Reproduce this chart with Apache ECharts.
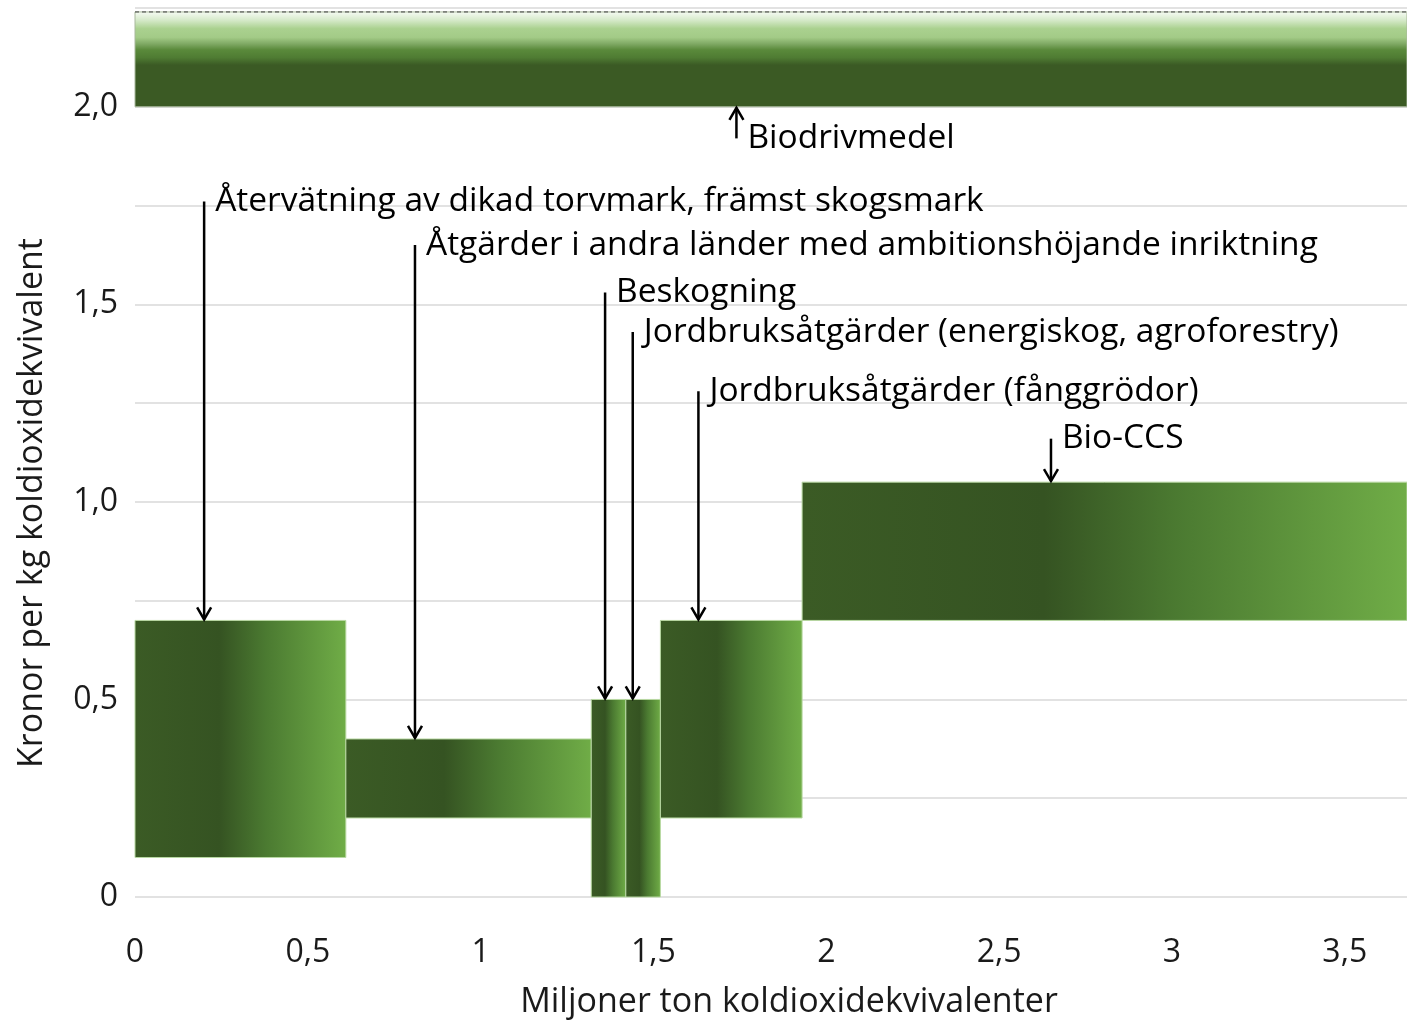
<!DOCTYPE html>
<html>
<head>
<meta charset="utf-8">
<script src="https://cdn.jsdelivr.net/npm/echarts@6/dist/echarts.min.js"></script>
<style>
html, body { margin: 0; padding: 0; background: #fff; }
#main { width: 1407px; height: 1022px; }
</style>
</head>
<body>
<div id="main"></div>
<script>
// atgarder (staplar) - bredd = potential, hojd = kostnadsintervall
var measures = ['Återvätning', 'Åtgärder i andra länder', 'Beskogning', 'Jordbruk energiskog', 'Jordbruk fånggrödor', 'Bio-CCS'];
var xStart = [0, 0.61, 1.32, 1.42, 1.52, 1.93];
var xEnd = [0.61, 1.32, 1.42, 1.52, 1.93, 3.68];
var costLow = [0.1, 0.2, 0, 0, 0.2, 0.7];
var costHigh = [0.7, 0.4, 0.5, 0.5, 0.7, 1.05];

// biodrivmedel ligger over hela bredden
var bioX = [0, 3.68];
var bioCost = [2.0, 2.24];

// pilar och texter
var noteText = [
    'Återvätning av dikad torvmark, främst skogsmark',
    'Åtgärder i andra länder med ambitionshöjande inriktning',
    'Beskogning',
    'Jordbruksåtgärder (energiskog, agroforestry)',
    'Jordbruksåtgärder (fånggrödor)',
    'Bio-CCS',
    'Biodrivmedel'
];
var noteX = [0.2, 0.81, 1.36, 1.44, 1.63, 2.65, 1.74];
var noteTail = [1.76, 1.65, 1.53, 1.43, 1.28, 1.16, 1.92];
var noteTip = [0.7, 0.4, 0.5, 0.5, 0.7, 1.05, 2.0];

var xTicks = ['0', '0,5', '1', '1,5', '2', '2,5', '3', '3,5'];

var FONT = '"Open Sans", "Noto Sans", sans-serif';
var FS = 32;

var chartDom = document.getElementById('main');
var myChart = echarts.init(chartDom);
var option;

var barData = [];
for (var i = 0; i < measures.length; i++) {
    barData.push({ name: measures[i], value: [xStart[i], xEnd[i], costLow[i], costHigh[i]] });
}
var noteData = [];
for (var j = 0; j < noteText.length; j++) {
    noteData.push({ name: noteText[j], value: [noteX[j], noteTail[j], noteTip[j]] });
}

function hGrad() {
    return new echarts.graphic.LinearGradient(0, 0, 1, 0, [
        { offset: 0, color: '#3b5b25' },
        { offset: 0.4, color: '#355322' },
        { offset: 0.62, color: '#4b7a31' },
        { offset: 1, color: '#70ad47' }
    ]);
}

function renderBar(params, api) {
    var p0 = api.coord([api.value(0), api.value(3)]);
    var p1 = api.coord([api.value(1), api.value(2)]);
    return {
        type: 'rect',
        shape: { x: p0[0], y: p0[1], width: p1[0] - p0[0], height: p1[1] - p0[1] },
        style: { fill: hGrad(), stroke: '#b9d9a3', lineWidth: 1 }
    };
}

function renderBio(params, api) {
    var p0 = api.coord([api.value(0), api.value(3)]);
    var p1 = api.coord([api.value(1), api.value(2)]);
    return {
        type: 'group',
        children: [
            {
                type: 'rect',
                shape: { x: p0[0], y: p0[1], width: p1[0] - p0[0], height: p1[1] - p0[1] },
                style: {
                    fill: new echarts.graphic.LinearGradient(0, 0, 0, 1, [
                        { offset: 0, color: '#f8fcf6' },
                        { offset: 0.09, color: '#d6eaca' },
                        { offset: 0.18, color: '#aad18f' },
                        { offset: 0.27, color: '#a3cb87' },
                        { offset: 0.34, color: '#7ea863' },
                        { offset: 0.4, color: '#5a8a3b' },
                        { offset: 0.48, color: '#4f7c33' },
                        { offset: 0.56, color: '#3b5a24' },
                        { offset: 1, color: '#3b5a24' }
                    ]),
                    stroke: '#a8b89c',
                    lineWidth: 1
                }
            },
            {
                type: 'line',
                shape: { x1: p0[0], y1: p0[1], x2: p1[0], y2: p0[1] },
                style: { stroke: '#404040', lineWidth: 1, lineDash: [4, 3] }
            }
        ]
    };
}

function renderNote(params, api) {
    var x = api.value(0);
    var tail = api.coord([x, api.value(1)]);
    var tip = api.coord([x, api.value(2)]);
    var dir = tip[1] > tail[1] ? 1 : -1;
    var hw = 7, hl = 13;
    return {
        type: 'group',
        children: [
            {
                type: 'line',
                shape: { x1: tail[0], y1: tail[1], x2: tip[0], y2: tip[1] - dir * 1 },
                style: { stroke: '#000', lineWidth: 2.5 }
            },
            {
                type: 'polyline',
                shape: { points: [[tip[0] - hw, tip[1] - dir * hl], [tip[0], tip[1] - dir * 1], [tip[0] + hw, tip[1] - dir * hl]] },
                style: { stroke: '#000', lineWidth: 2.5, fill: null }
            },
            {
                type: 'text',
                x: tail[0] + 11,
                y: tail[1],
                style: {
                    text: noteText[params.dataIndex],
                    font: '33.5px ' + FONT,
                    fill: '#000',
                    verticalAlign: 'middle',
                    align: 'left'
                }
            }
        ]
    };
}

option = {
    animation: false,
    grid: { left: 135, right: 0, top: 8, bottom: 125, containLabel: false },
    xAxis: {
        type: 'value',
        min: 0,
        max: 3.68,
        interval: 0.5,
        axisLine: { show: false },
        axisTick: { show: false },
        splitLine: { show: false },
        axisLabel: {
            showMaxLabel: false,
            margin: 40,
            color: '#1a1a1a',
            fontSize: FS,
            fontFamily: FONT,
            formatter: function (v) {
                var k = Math.round(v / 0.5);
                return xTicks[k] !== undefined ? xTicks[k] : '';
            }
        }
    },
    yAxis: {
        type: 'value',
        min: 0,
        max: 2.25,
        interval: 0.25,
        axisLine: { show: false },
        axisTick: { show: false },
        splitLine: { lineStyle: { color: '#d9d9d9', width: 1.5 } },
        axisLabel: {
            margin: 17,
            color: '#1a1a1a',
            fontSize: FS,
            fontFamily: FONT,
            formatter: function (v) {
                if (Math.abs(v * 2 - Math.round(v * 2)) > 1e-6) return '';
                if (v === 0) return '0';
                return v.toFixed(1).replace('.', ',');
            }
        }
    },
    graphic: [
        {
            type: 'text',
            x: 789,
            y: 1002,
            style: {
                text: 'Miljoner ton koldioxidekvivalenter',
                font: '34px ' + FONT,
                fill: '#1a1a1a',
                align: 'center',
                verticalAlign: 'middle'
            }
        },
        {
            type: 'text',
            x: 32,
            y: 503,
            rotation: Math.PI / 2,
            style: {
                text: 'Kronor per kg koldioxidekvivalent',
                font: '34px ' + FONT,
                fill: '#1a1a1a',
                align: 'center',
                verticalAlign: 'middle'
            }
        }
    ],
    series: [
        {
            name: 'Biodrivmedel',
            type: 'custom',
            renderItem: renderBio,
            encode: { x: [0, 1], y: [2, 3] },
            data: [[bioX[0], bioX[1], bioCost[0], bioCost[1]]],
            silent: true
        },
        {
            name: 'Åtgärder',
            type: 'custom',
            renderItem: renderBar,
            encode: { x: [0, 1], y: [2, 3] },
            data: barData,
            silent: true
        },
        {
            name: 'Pilar',
            type: 'custom',
            renderItem: renderNote,
            encode: { x: 0, y: [1, 2] },
            data: noteData,
            clip: false,
            silent: true,
            z: 5
        }
    ]
};

option && myChart.setOption(option);
</script>
</body>
</html>
